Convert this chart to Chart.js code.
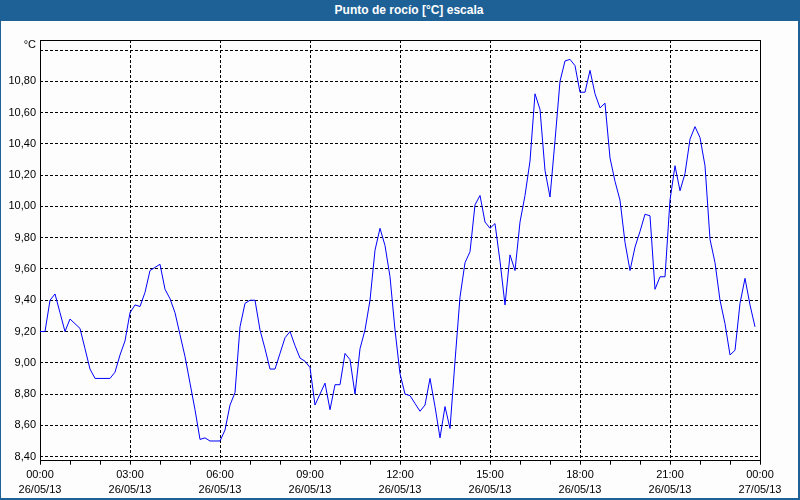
<!DOCTYPE html>
<html>
<head>
<meta charset="utf-8">
<title>Punto de rocío</title>
<script src="https://cdn.jsdelivr.net/npm/chart.js"></script>
<style>
  body { margin: 0; background: #fff; }
  #frame { position: relative; width: 800px; height: 500px; background: #fcfdfc; overflow: hidden; }
  #chartBox { position: absolute; left: 0; top: 0; width: 800px; height: 500px; }
  #title {
    position: absolute; left: 0; top: 0; width: 800px; height: 21px;
    background: #1e6197; color: #fff; box-sizing: border-box; padding-left: 18px;
    font: bold 12px "Liberation Sans", Arial, sans-serif; line-height: 21px; text-align: center;
  }
  .edge { position: absolute; background: #1e6197; }
</style>
</head>
<body>
<div id="frame">
  <div id="chartBox"><canvas id="myChart"></canvas></div>
  <div id="title">Punto de rocío [°C] escala</div>
  <div class="edge" style="left:0;top:21px;width:1px;height:479px"></div>
  <div class="edge" style="left:798px;top:21px;width:2px;height:479px"></div>
  <div class="edge" style="left:0;top:498px;width:800px;height:2px"></div>
</div>
<script>
// dew point, one reading every 10 minutes, 26/05/13 00:00 - 23:50
var values = [
  9.20, 9.20, 9.40, 9.44, 9.32, 9.20, 9.28, 9.25, 9.22, 9.09, 8.96, 8.90, 8.90, 8.90, 8.90, 8.94, 9.05, 9.14,
  9.32, 9.37, 9.36, 9.45, 9.59, 9.61, 9.63, 9.47, 9.41, 9.32, 9.18, 9.04, 8.87, 8.70, 8.51, 8.52, 8.50, 8.50,
  8.50, 8.57, 8.73, 8.81, 9.23, 9.38, 9.40, 9.40, 9.21, 9.09, 8.96, 8.96, 9.06, 9.16, 9.20, 9.11, 9.03, 9.01,
  8.97, 8.73, 8.80, 8.87, 8.70, 8.86, 8.86, 9.06, 9.02, 8.80, 9.09, 9.21, 9.40, 9.72, 9.86, 9.75, 9.55, 9.21,
  8.93, 8.80, 8.79, 8.74, 8.69, 8.73, 8.90, 8.72, 8.52, 8.72, 8.58, 9.01, 9.42, 9.64, 9.71, 10.01, 10.07, 9.90,
  9.86, 9.89, 9.65, 9.37, 9.69, 9.59, 9.90, 10.07, 10.29, 10.72, 10.62, 10.23, 10.06, 10.42, 10.80, 10.93, 10.94, 10.90,
  10.73, 10.73, 10.87, 10.72, 10.63, 10.66, 10.31, 10.16, 10.04, 9.77, 9.59, 9.74, 9.84, 9.95, 9.94, 9.47, 9.55, 9.55,
  10.04, 10.26, 10.10, 10.21, 10.43, 10.51, 10.44, 10.26, 9.79, 9.64, 9.40, 9.25, 9.05, 9.08, 9.38, 9.54, 9.37, 9.23
];
var minutes = values.map(function (v, i) { return i * 10; });

var yTicks = [8.4, 8.6, 8.8, 9.0, 9.2, 9.4, 9.6, 9.8, 10.0, 10.2, 10.4, 10.6, 10.8, 11.0];
var yTickLabels = ['8,40', '8,60', '8,80', '9,00', '9,20', '9,40', '9,60', '9,80', '10,00', '10,20', '10,40', '10,60', '10,80', ''];
var unitLabel = '°C';

var xTicks = [0, 180, 360, 540, 720, 900, 1080, 1260, 1440];
var hourLabels = ['00:00', '03:00', '06:00', '09:00', '12:00', '15:00', '18:00', '21:00', '00:00'];
var dateLabels = ['26/05/13', '26/05/13', '26/05/13', '26/05/13', '26/05/13', '26/05/13', '26/05/13', '26/05/13', '27/05/13'];

var tickFont = { family: '"Liberation Sans", Arial, sans-serif', size: 11, lineHeight: 1.36 };

// full box round the plot, and the unit written above the top grid line
var plotFrame = {
    id: 'plotFrame',
    beforeDatasetsDraw: function (chart) {
        var a = chart.chartArea, c = chart.ctx;
        var l = Math.floor(a.left) + 0.5, t = Math.floor(a.top) + 0.5;
        var r = Math.floor(a.right) + 0.5, b = Math.floor(a.bottom) + 0.5;
        c.save();
        c.strokeStyle = '#000';
        c.lineWidth = 1;
        c.setLineDash([]);
        c.strokeRect(l, t, r - l, b - t);
        c.fillStyle = '#000';
        c.font = '11px "Liberation Sans", Arial, sans-serif';
        c.textAlign = 'right';
        c.textBaseline = 'middle';
        c.fillText(unitLabel, a.left - 4, chart.scales.y.getPixelForValue(11.0) - 5);
        c.restore();
    }
};

var ctx = document.getElementById('myChart').getContext('2d');
var myChart = new Chart(ctx, {
    type: 'line',
    data: {
        datasets: [{
            label: 'Punto de rocío',
            data: values.map(function (v, i) { return { x: minutes[i], y: v }; }),
            borderColor: '#0000ff',
            borderWidth: 1,
            pointRadius: 0,
            tension: 0,
            fill: false
        }]
    },
    options: {
        responsive: true,
        maintainAspectRatio: false,
        animation: false,
        layout: { padding: { top: 40, right: 40, left: 0, bottom: 0 } },
        plugins: {
            legend: { display: false },
            tooltip: { enabled: false }
        },
        scales: {
            x: {
                type: 'linear',
                min: 0,
                max: 1440,
                afterBuildTicks: function (scale) {
                    var t = [];
                    for (var m = 0; m <= 1440; m += 60) t.push({ value: m });
                    scale.ticks = t;
                },
                afterFit: function (scale) { scale.height = 39.3; },
                grid: {
                    color: function (c) {
                        return c.tick && xTicks.indexOf(c.tick.value) >= 0 ? '#000' : 'rgba(0,0,0,0)';
                    },
                    tickColor: '#000',
                    tickLength: 4,
                    tickBorderDash: [],
                    lineWidth: 1
                },
                border: { display: false, dash: [3, 2] },
                ticks: {
                    autoSkip: false,
                    maxRotation: 0,
                    padding: 3,
                    color: '#000',
                    font: tickFont,
                    callback: function (value) {
                        var k = xTicks.indexOf(value);
                        return k >= 0 ? [hourLabels[k], dateLabels[k]] : '';
                    }
                }
            },
            y: {
                min: 8.374,
                max: 11.064,
                afterBuildTicks: function (scale) {
                    scale.ticks = yTicks.map(function (v) { return { value: v }; });
                },
                afterFit: function (scale) { scale.width = 40; },
                grid: { color: '#000', lineWidth: 1, drawTicks: false },
                border: { display: false, dash: [3, 2] },
                ticks: {
                    padding: 4,
                    color: '#000',
                    font: tickFont,
                    callback: function (value) {
                        for (var k = 0; k < yTicks.length; k++) {
                            if (Math.abs(yTicks[k] - value) < 0.001) return yTickLabels[k];
                        }
                        return '';
                    }
                }
            }
        }
    },
    plugins: [plotFrame]
});
</script>
</body>
</html>
